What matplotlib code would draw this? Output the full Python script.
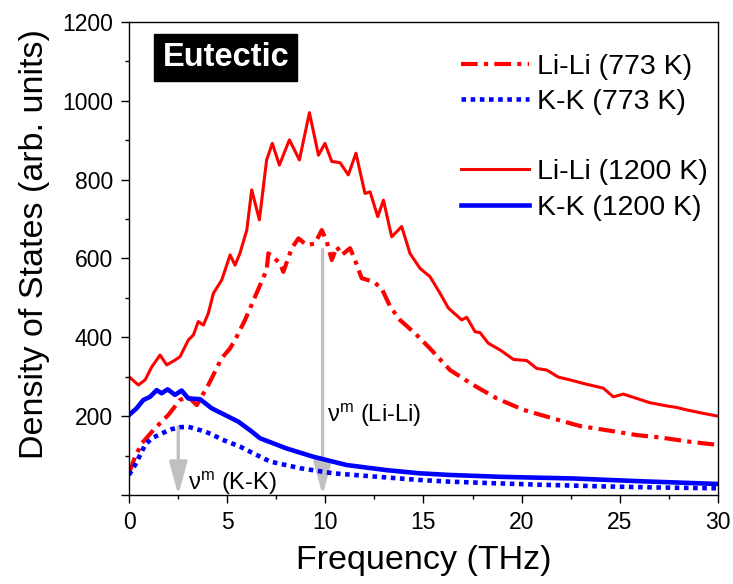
import matplotlib
matplotlib.use('Agg')
import matplotlib.pyplot as plt
from matplotlib.lines import Line2D

plt.rcParams['font.family'] = ['Liberation Sans', 'DejaVu Sans']
plt.rcParams['mathtext.fontset'] = 'custom'
plt.rcParams['mathtext.rm'] = 'Liberation Sans'

# Li-Li 773 K (dash-dot)
lili_773_x = [0.0, 0.31, 0.65, 1.32, 2.0, 2.6, 3.0, 3.45, 4.04, 4.72, 5.15, 5.49, 5.91, 6.42,
              7.01, 7.1, 7.69, 7.86, 8.29, 8.63, 9.05, 9.47, 9.82, 10.07, 10.33, 10.58, 10.84,
              11.26, 11.51, 11.85, 12.45, 12.87, 13.3, 13.8, 14.57, 15.25, 16.35, 17.54, 18.73,
              20.09, 21.61, 22.97, 24.5, 25.86, 27.05, 28.58, 30.0]
lili_773_y = [55, 97, 131, 169, 203, 241, 250, 228, 279, 347, 372, 402, 444, 503,
              571, 613, 588, 566, 626, 651, 634, 638, 672, 643, 596, 630, 609,
              626, 596, 550, 541, 524, 478, 444, 410, 376, 317, 279, 245,
              216, 194, 175, 163, 152, 146, 135, 127]

# K-K 773 K (dotted)
kk_773_x = [0.0, 0.31, 0.56, 0.82, 1.16, 1.75, 2.17, 2.6, 3.02, 3.45, 3.87, 4.3, 4.72, 5.23,
            5.65, 6.16, 7.18, 8.71, 10.41, 12.45, 14.82, 16.27, 18.5, 21.0, 24.0, 27.0, 30.0]
kk_773_y = [51, 76, 101, 127, 144, 158, 167, 172, 173, 167, 161, 152, 141, 131,
            123, 110, 85, 68, 55, 47, 38, 34, 30, 26, 22, 19, 17]

# Li-Li 1200 K (solid)
lili_1200_x = [0.0, 0.48, 0.82, 1.16, 1.58, 1.92, 2.34, 2.6, 3.02, 3.28, 3.53, 3.79, 4.04,
               4.3, 4.72, 5.15, 5.4, 5.65, 6.0, 6.25, 6.64, 7.01, 7.3, 7.66, 8.17, 8.68,
               9.19, 9.65, 9.98, 10.33, 10.75, 11.17, 11.56, 12.02, 12.28, 12.67, 12.96,
               13.38, 13.89, 14.31, 14.82, 15.33, 15.84, 16.27, 16.95, 17.2, 17.63, 17.88,
               18.3, 18.9, 19.58, 20.26, 20.77, 21.28, 21.87, 22.47, 23.14, 24.16, 24.67,
               25.18, 25.86, 26.54, 27.39, 27.9, 28.4, 29.26, 30.0]
lili_1200_y = [300, 279, 292, 325, 355, 330, 342, 351, 393, 406, 440, 431, 461,
               512, 545, 609, 583, 613, 672, 774, 698, 850, 892, 837, 901, 850,
               970, 862, 892, 846, 843, 812, 867, 765, 769, 706, 748,
               655, 681, 613, 575, 554, 512, 474, 444, 451, 414, 412,
               385, 368, 344, 341, 321, 317, 299, 292, 283, 271, 249,
               256, 245, 234, 226, 222, 216, 207, 200]

# K-K 1200 K (solid)
kk_1200_x = [0.0, 0.39, 0.73, 1.07, 1.41, 1.66, 1.97, 2.34, 2.68, 3.02, 3.62, 4.21, 4.89,
             5.57, 6.25, 6.67, 8.03, 9.39, 11.09, 13.13, 14.82, 16.27, 19.0, 22.6, 26.0, 30.0]
kk_1200_y = [203, 220, 241, 249, 266, 258, 268, 254, 265, 245, 243, 220, 203,
             186, 161, 144, 118, 97, 76, 63, 55, 51, 46, 42, 35, 28]

# characteristic frequencies (arrows)
nu_m_kk = (2.51, 173)
nu_m_lili = (9.86, 623)

fig = plt.figure(figsize=(7.33, 5.84), dpi=100)
ax = fig.add_axes([0.176, 0.1524, 0.8035, 0.81])

arrow_kw = dict(arrowstyle='-|>,head_width=0.55,head_length=2.0', color='#c0c0c0', lw=2.4,
                shrinkA=0, shrinkB=0)
ax.annotate('', xy=(nu_m_kk[0], 0), xytext=nu_m_kk, arrowprops=arrow_kw, zorder=1)
ax.annotate('', xy=(nu_m_lili[0], 0), xytext=nu_m_lili, arrowprops=arrow_kw, zorder=1)

l1, = ax.plot(lili_773_x, lili_773_y, color='red', lw=3, ls=(0, (4, 1.5, 1, 1.5)),
              label='Li-Li (773 K)')
l2, = ax.plot(kk_773_x, kk_773_y, color='blue', lw=3.3, ls=(0, (1, 1)),
              label='K-K (773 K)')
l3, = ax.plot(lili_1200_x, lili_1200_y, color='red', lw=2.2, label='Li-Li (1200 K)')
l4, = ax.plot(kk_1200_x, kk_1200_y, color='blue', lw=3.3, label='K-K (1200 K)')

blank = Line2D([], [], alpha=0)
ax.legend([l1, l2, blank, l3, l4],
          ['Li-Li (773 K)', 'K-K (773 K)', ' ', 'Li-Li (1200 K)', 'K-K (1200 K)'],
          loc='upper right', bbox_to_anchor=(1.0, 0.954), frameon=False, fontsize=20.5,
          handlelength=2.4, handletextpad=0.28, labelspacing=0.325, borderaxespad=0,
          borderpad=0.35)

ax.text(10.1, 203, 'ν$^{\\rm m}$ (Li-Li)', fontsize=17, va='center', ha='left')
ax.text(3.0, 30, 'ν$^{\\rm m}$ (K-K)', fontsize=17, va='center', ha='left')

ax.text(1.7, 1110, 'Eutectic', fontsize=23.5, fontweight='bold', color='white',
        va='center', ha='left',
        bbox=dict(boxstyle='square,pad=0.25', facecolor='black', edgecolor='black'))

ax.set_xlim(0, 30)
ax.set_ylim(0, 1200)
ax.set_xticks([0, 5, 10, 15, 20, 25, 30])
ax.set_xticks([2.5, 7.5, 12.5, 17.5, 22.5, 27.5], minor=True)
ax.set_yticks([0, 200, 400, 600, 800, 1000, 1200])
ax.set_yticks([100, 300, 500, 700, 900, 1100], minor=True)
ax.set_yticklabels(['', '200', '400', '600', '800', '1000', '1200'])
ax.tick_params(which='major', direction='out', length=6, width=1, labelsize=16.5, pad=5.5)
ax.tick_params(which='minor', direction='out', length=3, width=1)
for sp in ax.spines.values():
    sp.set_linewidth(1)

ax.set_xlabel('Frequency (THz)', fontsize=24.5)
ax.set_ylabel('Density of States (arb. units)', fontsize=24.5)
ax.xaxis.set_label_coords(0.5, -0.105)
ax.yaxis.set_label_coords(-0.134, 0.53)

fig.savefig('out.png', dpi=100)
